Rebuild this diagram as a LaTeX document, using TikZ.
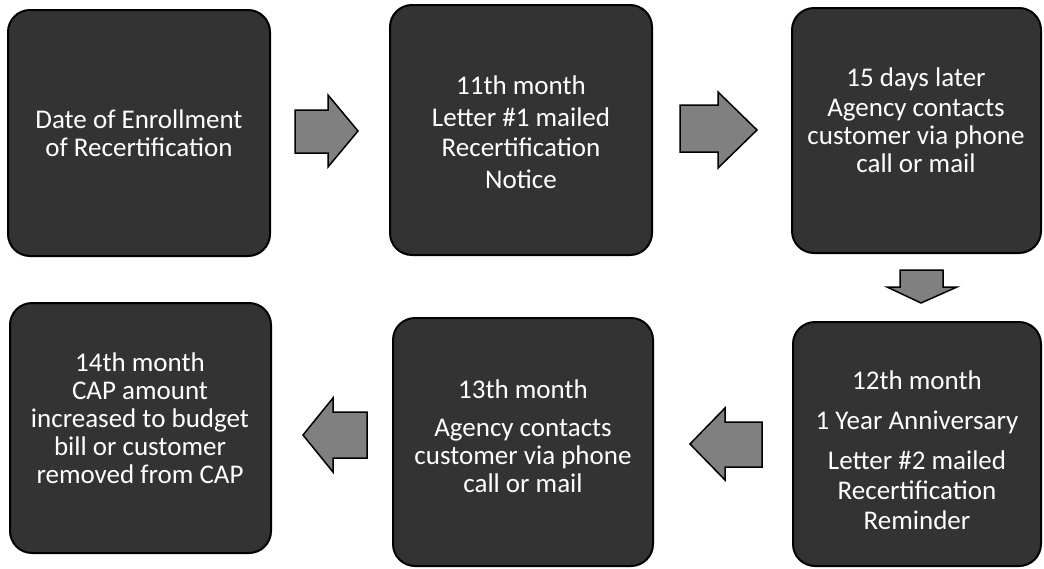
\documentclass[tikz,border=0pt]{standalone}
\usepackage{fontspec}
\setmainfont{Carlito}
\begin{document}
\begin{tikzpicture}[x=1pt,y=-1pt,
  stepbox/.style={draw=black, line width=2pt, fill=black!80, rounded corners=22pt,
    text=white, align=center, inner sep=0pt,
    font=\fontsize{27}{28}\selectfont},
  blockarrow/.style={draw=black, line width=1.5pt, fill=black!50, line join=miter}]
\useasboundingbox (0,0) rectangle (1044,568);
% boxes: drawn by corners, text placed at centres
\draw[stepbox] (8,10) rectangle (270,256);
\node[stepbox, draw=none, fill=none] (b1) at (139,133) {Date of Enrollment\\of Recertification};
\draw[stepbox] (390,5) rectangle (652,255);
\node[stepbox, draw=none, fill=none] (b2) at (521,132) {11th month\\[4pt]Letter \#1 mailed\\[2pt]Recertification\\[4pt]Notice};
\draw[stepbox] (792,8) rectangle (1041,253);
\node[stepbox, draw=none, fill=none] (b3) at (916,120) {15 days later\\[2pt]Agency contacts\\customer via phone\\call or mail};
\draw[stepbox] (793,322) rectangle (1041,566);
\node[stepbox, draw=none, fill=none] (b6) at (917,450) {12th month\\[12pt]1 Year Anniversary\\[12pt]Letter \#2 mailed\\[2pt]Recertification\\[2pt]Reminder};
\draw[stepbox] (393,318) rectangle (653,566);
\node[stepbox, draw=none, fill=none] (b5) at (523,436) {13th month\\[10pt]Agency contacts\\customer via phone\\call or mail};
\draw[stepbox] (10,303) rectangle (271,553);
\node[stepbox, draw=none, fill=none] (b4) at (140,418) {14th month\\CAP amount\\increased to budget\\bill or customer\\removed from CAP};
% block arrows
\draw[blockarrow] (295,110) -- (328,110) -- (328,95) -- (358,131) -- (328,167) -- (328,153) -- (295,153) -- cycle;
\draw[blockarrow] (680,105) -- (718,105) -- (718,92) -- (757,130) -- (718,168) -- (718,152) -- (680,152) -- cycle;
\draw[blockarrow] (900,270) -- (943,270) -- (943,287) -- (957,287) -- (921,303) -- (887,287) -- (900,287) -- cycle;
\draw[blockarrow] (762,422) -- (725,422) -- (725,408) -- (690,444) -- (725,480) -- (725,467) -- (762,467) -- cycle;
\draw[blockarrow] (367,412) -- (333,412) -- (333,398) -- (303,435) -- (333,472) -- (333,458) -- (367,458) -- cycle;
\end{tikzpicture}
\end{document}
